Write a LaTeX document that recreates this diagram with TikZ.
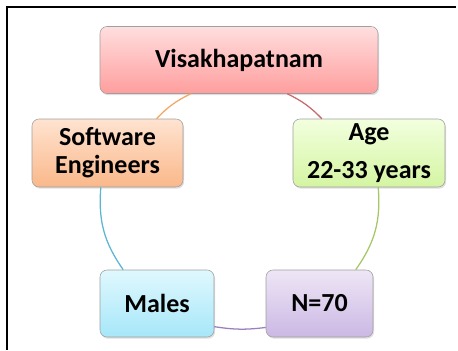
\documentclass[tikz,border=0pt]{standalone}
\usepackage{fontspec}
\setmainfont{Carlito}
\usetikzlibrary{shadows}

\definecolor{pinktop}{HTML}{FFDEDE}
\definecolor{pinkbot}{HTML}{FF9E9E}
\definecolor{orangetop}{HTML}{FFE3D0}
\definecolor{orangebot}{HTML}{FAB88A}
\definecolor{greentop}{HTML}{F2FFDE}
\definecolor{greenbot}{HTML}{D4F5A2}
\definecolor{cyantop}{HTML}{E0F8FE}
\definecolor{cyanbot}{HTML}{A6E7F9}
\definecolor{violettop}{HTML}{EEE6F6}
\definecolor{violetbot}{HTML}{CBB8E4}
\definecolor{lineorange}{HTML}{F5A663}
\definecolor{linered}{HTML}{C96A6A}
\definecolor{linegreen}{HTML}{A5C765}
\definecolor{lineviolet}{HTML}{9A80BC}
\definecolor{lineblue}{HTML}{5DB6D2}

\begin{document}
\begin{tikzpicture}[x=0.025cm, y=0.025cm,
	box/.style={rectangle, rounded corners=5pt, draw=gray!75, thin, align=center,
		font=\fontsize{18.5}{20}\selectfont\bfseries, inner sep=0pt,
		drop shadow={opacity=0.25, shadow xshift=0.8pt, shadow yshift=-1.2pt}},
	link/.style={line width=0.9pt}]
			\useasboundingbox (0,0) rectangle (458,350);
			\draw[line width=1.4pt] (456,343) -- (7,343) -- (7,0);
			
			\node[box, minimum width=278*0.025cm, minimum height=67*0.025cm, top color=pinktop, bottom color=pinkbot] (vis) at (239,290){Visakhapatnam};
			\node[box, minimum width=151*0.025cm, minimum height=68*0.025cm, top color=orangetop, bottom color=orangebot] (soft) at (107.5,197){Software\\Engineers};
			\node[box, minimum width=152*0.025cm, minimum height=68*0.025cm, top color=greentop, bottom color=greenbot] (age) at (369,197){Age\\[7.5pt]22-33 years};
			\node[box, minimum width=114*0.025cm, minimum height=67*0.025cm, top color=cyantop, bottom color=cyanbot] (males) at (157,46.5){Males};
			\node[box, minimum width=107*0.025cm, minimum height=67*0.025cm, top color=violettop, bottom color=violetbot] (nseventy) at (319.5,46.5){N=70};
			
			\draw[link, draw=lineorange] (vis.215) to[bend right=10] (soft.35);
			\draw[link, draw=linered] (vis.325) to[bend left=10] (age.144);
			\draw[link, draw=lineblue] (soft.259) to[bend right=20] (males.135);
			\draw[link, draw=linegreen] (age.285) to[bend left=20] (nseventy.43);
			\draw[link, draw=lineviolet] (males.338) to[bend right=8] (nseventy.204);
			\end{tikzpicture}
\end{document}
